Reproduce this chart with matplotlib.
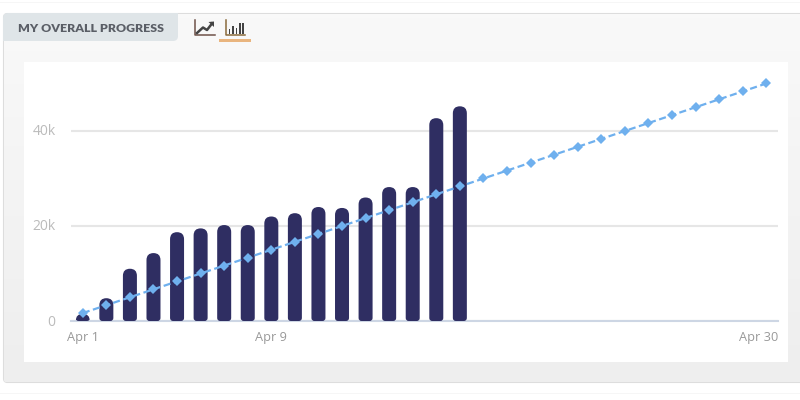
import numpy as np
import matplotlib
matplotlib.use("Agg")
import matplotlib.pyplot as plt
from matplotlib.patches import FancyBboxPatch, PathPatch, Rectangle
from matplotlib.path import Path
from matplotlib.transforms import ScaledTranslation

# values
days = [f"Apr {d}" for d in range(1, 31)]
tick_days = ["Apr 1", "Apr 9", "Apr 30"]
progress = [1500, 4800, 11000, 14300, 18700, 19500, 20200, 20200, 22000, 22700,
            24000, 23800, 26000, 28200, 28200, 42700, 45200]
target = [1667, 3333, 5000, 6667, 8333, 10000, 11667, 13333, 15000, 16667,
          18333, 20000, 21667, 23333, 25000, 26667, 28333, 30000, 31667, 33333,
          35000, 36667, 38333, 40000, 41667, 43333, 45000, 46667, 48333, 50000]
y_ticks = [0, 20000, 40000]
y_labels = ["0", "20k", "40k"]

W, H = 800, 400
BAR = "#2f2e62"
LINE = "#6fb0ee"

plt.rcParams["font.family"] = "Open Sans"

fig = plt.figure(figsize=(W / 100, H / 100), dpi=100, facecolor="white")

# page furniture, in pixel coordinates
bg = fig.add_axes([0, 0, 1, 1], zorder=0)
bg.set_xlim(0, W)
bg.set_ylim(H, 0)
bg.axis("off")

bg.plot([0, W], [2, 2], color="#f6f6f6", lw=0.7)
bg.plot([0, W], [393, 393], color="#f6f6f6", lw=0.7)

panel = FancyBboxPatch((3.5, 13.5), 810, 369, boxstyle="round,pad=0,rounding_size=4",
                       fc="#f4f4f4", ec="#dddddd", lw=0.8)
bg.add_patch(panel)
shade = np.linspace(0, 1, 100).reshape(-1, 1)
img = bg.imshow(shade, extent=(4, W, 382, 14), cmap=matplotlib.colors.LinearSegmentedColormap.from_list(
    "panel", ["#f9f9f9", "#eeeeee"]), aspect="auto", zorder=1)
img.set_clip_path(panel)
bg.set_xlim(0, W)
bg.set_ylim(H, 0)

bg.add_patch(Rectangle((24, 62), 764, 300, fc="white", ec="none", zorder=2))

tab_path = Path(
    [(3, 41), (3, 18), (3, 13), (8, 13), (178, 13), (178, 36), (178, 41), (173, 41), (3, 41)],
    [Path.MOVETO, Path.LINETO, Path.CURVE3, Path.CURVE3, Path.LINETO, Path.LINETO,
     Path.CURVE3, Path.CURVE3, Path.CLOSEPOLY])
bg.add_patch(PathPatch(tab_path, fc="#dfe5e8", ec="none", zorder=2))
title = bg.text(18, 28.5, "MY OVERALL PROGRESS", family="Lato", weight="heavy", fontsize=8.9,
                color="#5a5e66", va="center", ha="left", zorder=3)

# line icon
bg.plot([194.5, 194.5, 214.5], [20, 35, 35], color="#6e5148", lw=1.1, zorder=3)
bg.plot([197, 203, 207, 212], [33, 27.5, 30, 23.5], color="#444444", lw=1.8, zorder=3)
bg.fill([214, 208.5, 214], [21.5, 22, 27], color="#444444", lw=0, zorder=3)
# bar icon
bg.plot([226, 226, 245], [20, 35, 35], color="#8a6a3c", lw=1.1, zorder=3)
bg.bar([229.5, 233, 236.5, 240, 243], [-5, -8, -6, -11, -11], bottom=33.5, width=1.9,
       color="#444444", zorder=3)
bg.set_ylim(H, 0)
bg.add_patch(Rectangle((219, 39), 32, 2.7, fc="#e9b57f", ec="none", zorder=3))

# chart
ax = fig.add_axes([71 / W, 1 - 321 / H, 707 / W, 259 / H], zorder=1)
ax.patch.set_alpha(0)
ax.set_xlim(-0.5, 29.5)
ax.set_ylim(0, 54526)

for s in ["top", "right", "left"]:
    ax.spines[s].set_visible(False)
ax.spines["bottom"].set_color("#cdd6e4")
ax.spines["bottom"].set_linewidth(1.5)

ax.grid(axis="y", color="#e6e6e6", lw=1.5)
ax.set_axisbelow(True)
ax.set_yticks(y_ticks, y_labels)
ax.set_xticks([days.index(t) for t in tick_days], tick_days)
ax.tick_params(axis="y", length=0, pad=11, labelsize=10, labelcolor="#bbbbbb")
ax.tick_params(axis="x", length=0, pad=7.5, labelsize=9.2, labelcolor="#999999")

up = ScaledTranslation(0, 1 / 100, fig.dpi_scale_trans)
for lab in ax.get_yticklabels():
    lab.set_transform(lab.get_transform() + up)

last = ax.get_xticklabels()[-1]
last.set_ha("right")
last.set_transform(last.get_transform() + ScaledTranslation(12 / 100, 0, fig.dpi_scale_trans))

# rounded bars: radii are given in pixels, turned to data units via the scales
px_x = 30 / 707
px_y = 54526 / 259


def rounded_bar(x, v, half=7, rt=7, rb=3):
    hw = half * px_x
    tx, ty = rt * px_x, min(rt * px_y, v)
    bx, by = rb * px_x, rb * px_y
    if ty + by > v:
        by = v * 0.3
    l, r = x - hw, x + hw
    verts = [(l, by), (l, v - ty), (l, v), (l + tx, v), (r - tx, v), (r, v), (r, v - ty),
             (r, by), (r, 0), (r - bx, 0), (l + bx, 0), (l, 0), (l, by), (l, by)]
    codes = [Path.MOVETO, Path.LINETO, Path.CURVE3, Path.CURVE3, Path.LINETO, Path.CURVE3, Path.CURVE3,
             Path.LINETO, Path.CURVE3, Path.CURVE3, Path.LINETO, Path.CURVE3, Path.CURVE3, Path.CLOSEPOLY]
    return Path(verts, codes)


for i, v in enumerate(progress):
    ax.add_patch(PathPatch(rounded_bar(i, v), fc=BAR, ec="none", zorder=3))

ax.plot(range(len(days)), target, color=LINE, lw=1.6, dashes=(3.2, 1.6), marker="D", ms=4.8,
        mec=LINE, mew=0, zorder=4, clip_on=False)

fig.savefig("out.png", dpi=100)
